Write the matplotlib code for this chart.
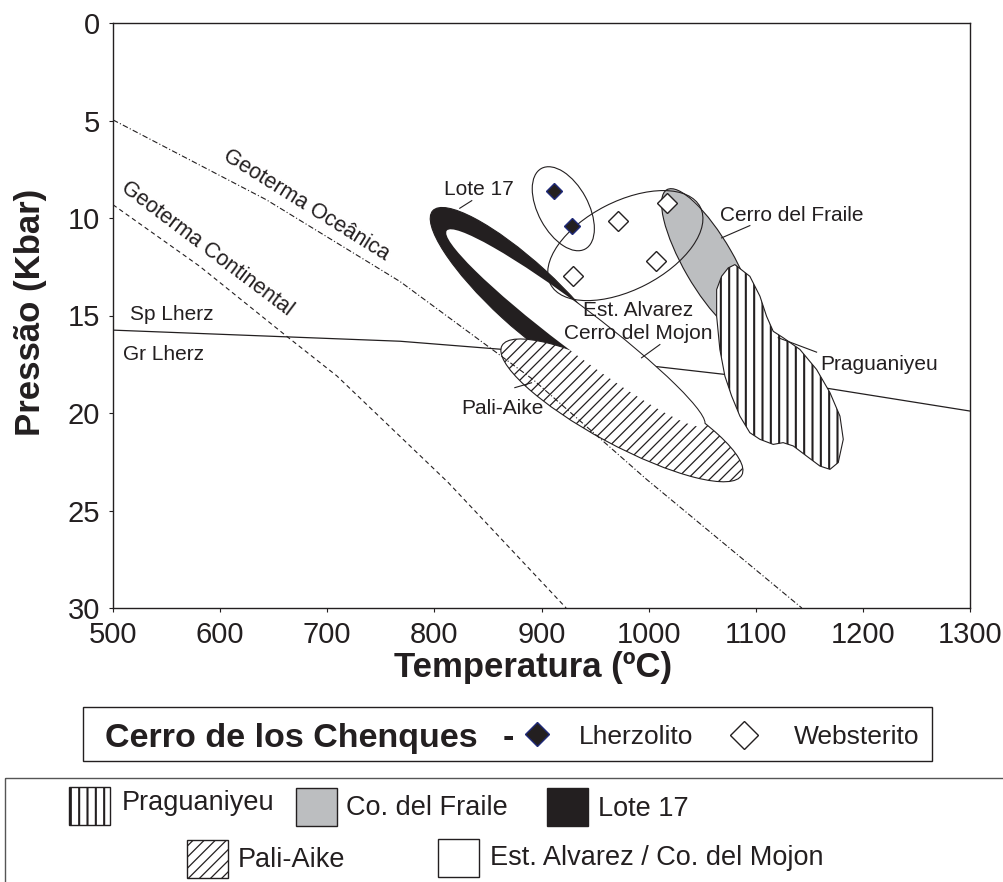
# P-T diagram of mantle xenolith fields (Patagonia) with Cerro de los Chenques samples

import numpy as np
import matplotlib
matplotlib.use('Agg')
import matplotlib.pyplot as plt
from matplotlib.patches import Circle, Polygon, Rectangle
from matplotlib.transforms import Affine2D

plt.rcParams['font.family'] = ['Liberation Sans', 'DejaVu Sans']
plt.rcParams['hatch.linewidth'] = 0.9
ink = '#231f20'

# curves (T in ºC, P in kbar)
ocean_T = [500, 643, 768, 892, 998, 1143]
ocean_P = [4.97, 9.06, 13.26, 18.28, 23.4, 30.0]
cont_T = [500, 581, 662, 709, 813, 923]
cont_P = [9.32, 12.48, 16.06, 18.1, 23.57, 30.0]
spgr_T = [500, 768, 864, 1004, 1071, 1163, 1300]
spgr_P = [15.75, 16.32, 16.74, 17.6, 18.02, 18.7, 19.9]

# elliptical fields: two ends of the long axis and one end of the short axis (T, P)
lote17 = [(798.5, 9.63), (968.5, 18.18), (903.7, 12.69)]
pali_aike = [(863.1, 16.55), (1087.0, 23.18), (990.3, 18.31)]
est_alvarez = [(811.6, 10.65), (1051.6, 20.63), (943.5, 14.79)]
fraile = [(1017.0, 8.55), (1095.5, 16.03), (1076.5, 11.65)]
lherz_field = [(899.9, 7.46), (940.8, 11.59), (940.9, 8.91)]
webst_field = [(908.3, 13.39), (1048.2, 9.44), (997.1, 13.43)]

# Praguaniyeu outline
prag_T = [1080.5, 1094.5, 1103.9, 1110.1, 1116.3, 1125.6, 1141.2, 1156.8, 1169.3, 1178.6,
          1181.7, 1177.0, 1169.3, 1159.9, 1147.5, 1135.0, 1125.6, 1116.3, 1103.9, 1094.5,
          1085.2, 1077.5, 1071.2, 1066.5, 1063.5, 1063.5, 1068.1, 1074.3]
prag_P = [12.39, 12.99, 14.01, 15.04, 15.81, 16.14, 16.74, 17.77, 18.96, 20.16,
          21.35, 22.54, 22.89, 22.72, 22.21, 21.69, 21.52, 21.61, 21.35, 21.01,
          20.16, 19.13, 18.11, 16.74, 15.04, 13.67, 12.99, 12.56]

# Cerro de los Chenques samples
lherz_T = [911.5, 928.1]
lherz_P = [8.64, 10.43]
webst_T = [971.6, 1017.3, 1006.5, 929.5]
webst_P = [10.14, 9.23, 12.19, 12.99]

field_names = ['Praguaniyeu', 'Co. del Fraile', 'Lote 17', 'Pali-Aike',
               'Est. Alvarez / Co. del Mojon']
gray = '#bcbec0'


def field_ellipse(ax, pts, **kw):
    (t1, p1), (t2, p2), (ts, ps) = pts
    ct, cp = (t1 + t2) / 2, (p1 + p2) / 2
    m = np.array([[t2 - ct, ts - ct, ct],
                  [p2 - cp, ps - cp, cp],
                  [0, 0, 1]])
    patch = Circle((0, 0), 1, transform=Affine2D(m) + ax.transData, **kw)
    ax.add_patch(patch)
    return patch


def thick_hatch(patch):
    try:
        patch.set_hatch_linewidth(1.5)
    except AttributeError:
        pass


fig = plt.figure(figsize=(10.04, 8.82), dpi=100)
ax = fig.add_axes([113 / 1004, 1 - 608 / 882, 857 / 1004, 585 / 882])

ax.plot(spgr_T, spgr_P, color=ink, lw=0.9, zorder=1)
ax.plot(ocean_T, ocean_P, color=ink, lw=0.8, ls=(0, (5, 2, 1, 2)), zorder=8)
ax.plot(cont_T, cont_P, color=ink, lw=0.8, ls=(0, (4, 3)), zorder=8)

field_ellipse(ax, lote17, facecolor=ink, edgecolor=ink, lw=0.8, zorder=2)
# outline of Est. Alvarez sits under Pali-Aike, its fill above it
field_ellipse(ax, est_alvarez, fill=False, edgecolor=ink, lw=1.5, zorder=2.5)
field_ellipse(ax, pali_aike, facecolor='white', edgecolor=ink, hatch='///', lw=0.8, zorder=3)
field_ellipse(ax, est_alvarez, facecolor='white', edgecolor='none', zorder=4)
field_ellipse(ax, fraile, facecolor=gray, edgecolor=ink, lw=0.8, zorder=4)
prag = Polygon(np.column_stack([prag_T, prag_P]), closed=True, facecolor='white',
               edgecolor=ink, hatch='||', lw=0.8, zorder=5)
thick_hatch(prag)
ax.add_patch(prag)
field_ellipse(ax, webst_field, fill=False, edgecolor=ink, lw=0.8, zorder=6)
field_ellipse(ax, lherz_field, fill=False, edgecolor=ink, lw=0.8, zorder=6)

ax.plot(lherz_T, lherz_P, 'D', ms=8.5, mfc=ink, mec='#1f2a7a', mew=1.0, ls='none', zorder=7)
ax.plot(webst_T, webst_P, 'D', ms=10.5, mfc='white', mec=ink, mew=1.0, ls='none', zorder=7)

# labels inside the diagram
lab = dict(fontsize=15, color=ink, va='baseline', zorder=9)
ax.text(841.5, 8.81, 'Lote 17', ha='center', **lab)
ax.text(1066.5, 10.17, 'Cerro del Fraile', ha='left', **lab)
ax.text(990, 15.04, 'Est. Alvarez', ha='center', **lab)
ax.text(990, 16.23, 'Cerro del Mojon', ha='center', **lab)
ax.text(1159.9, 17.77, 'Praguaniyeu', ha='left', **lab)
ax.text(825.3, 20.07, 'Pali-Aike', ha='left', **lab)
ax.text(515.6, 15.21, 'Sp Lherz', ha='left', **lab)
ax.text(509.3, 17.26, 'Gr Lherz', ha='left', **lab)
ax.text(680.5, 9.32, 'Geoterma Oceânica', fontsize=15.5, color=ink, ha='center', va='center',
        rotation=-32, rotation_mode='anchor')
ax.text(588, 11.57, 'Geoterma Continental', fontsize=15.5, color=ink, ha='center', va='center',
        rotation=-37, rotation_mode='anchor')

# leader lines
leaders = [((823.7, 834.9), (9.50, 9.11)),
           ((1068.1, 1094.5), (11.02, 10.39)),
           ((993.4, 1010.5), (17.17, 16.49)),
           ((1121.0, 1156.8), (16.14, 16.88)),
           ((875.1, 890.7), (18.70, 18.45))]
for xs, ys in leaders:
    ax.plot(xs, ys, color=ink, lw=0.8, zorder=9)

ax.set_xlim(500, 1300)
ax.set_ylim(30, 0)
ax.set_xticks(range(500, 1301, 100))
ax.set_yticks(range(0, 31, 5))
ax.tick_params(direction='out', length=3, width=0.8, labelsize=21, pad=6.5,
               colors=ink, top=False, right=False)
for s in ax.spines.values():
    s.set_linewidth(1.0)
    s.set_color(ink)
ax.set_xlabel('Temperatura (ºC)', fontsize=25, fontweight='bold', color=ink, va='top')
ax.xaxis.set_label_coords(0.49, -0.074)
ax.set_ylabel('Pressão (Kbar)', fontsize=25, fontweight='bold', color=ink)
ax.yaxis.set_label_coords(-0.077, 0.506)

# legend boxes drawn in pixel space
lax = fig.add_axes([0, 0, 1, 1])
lax.set_xlim(0, 1004)
lax.set_ylim(882, 0)
lax.axis('off')

lax.add_patch(Rectangle((83.3, 706.7), 848.7, 54.3, fill=False, edgecolor=ink, lw=1.0))
lax.text(105, 746.7, 'Cerro de los Chenques', fontsize=24.5, fontweight='bold', color=ink, va='baseline')
lax.text(503, 746.7, '-', fontsize=24.5, fontweight='bold', color=ink, va='baseline')
lax.plot([537], [734], 'D', ms=12, mfc=ink, mec='#1f2a7a', mew=1.0)
lax.text(579, 744, 'Lherzolito', fontsize=19, color=ink, va='baseline')
lax.plot([744], [735], 'D', ms=14, mfc='white', mec=ink, mew=1.0)
lax.text(793.6, 744, 'Websterito', fontsize=19, color=ink, va='baseline')

lax.add_patch(Rectangle((5, 777.5), 1100, 200, fill=False, edgecolor='#555555', lw=1.0))
icons = [dict(facecolor='white', hatch='||'), dict(facecolor=gray), dict(facecolor=ink),
         dict(facecolor='white', hatch='///'), dict(facecolor='white')]
icon_xy = [(69, 786.5), (295.7, 788.3), (547, 788.3), (186.7, 840), (438, 839)]
text_xy = [(121.6, 810), (345.6, 815), (598, 816), (238, 866.7), (489.6, 865)]
for name, st, (ix, iy), (tx, ty) in zip(field_names, icons, icon_xy, text_xy):
    r = Rectangle((ix, iy), 41, 38, edgecolor=ink, lw=1.0, **st)
    if st.get('hatch') == '||':
        thick_hatch(r)
    lax.add_patch(r)
    lax.text(tx, ty, name, fontsize=19.5, color=ink, va='baseline')

fig.savefig('out.png', dpi=100)
